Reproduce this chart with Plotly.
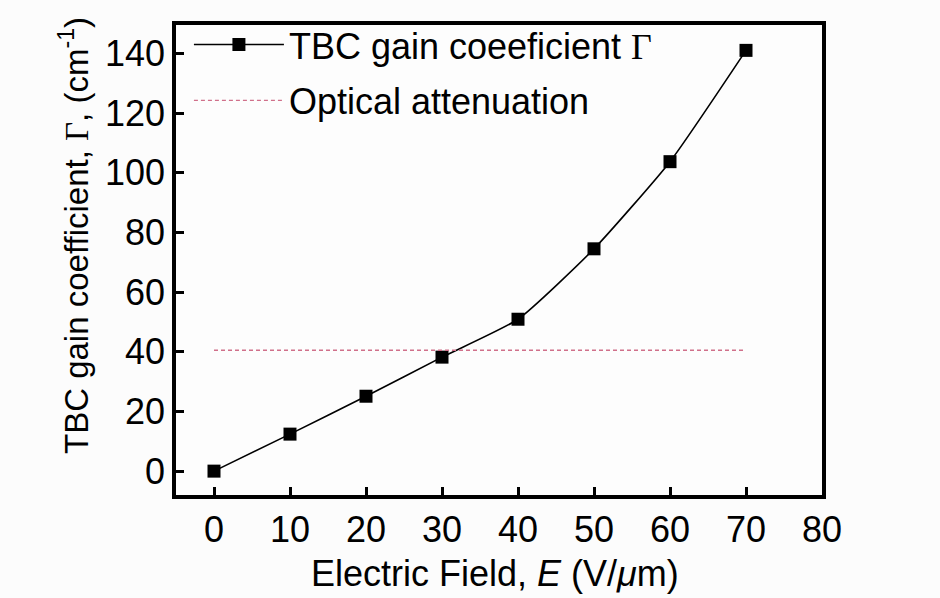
import plotly.graph_objects as go

# Electric field (V/um) and measured two-beam-coupling gain (cm^-1)
field = [0, 10, 20, 30, 40, 50, 60, 70]
gain = [0, 12.4, 25.1, 38.2, 50.9, 74.5, 103.7, 141.0]

# Optical attenuation level drawn across the field range
atten_field = [0, 70]
atten_level = [40.5, 40.5]

x_ticks = [0, 10, 20, 30, 40, 50, 60, 70, 80]
y_ticks = [0, 20, 40, 60, 80, 100, 120, 140]

FONT = "Liberation Sans, Arial, sans-serif"
FS = 36
GAMMA = "<span style=\"font-family:'Liberation Serif', 'Times New Roman', serif\">\u0393</span>"

fig = go.Figure()
fig.add_trace(go.Scatter(
    x=field, y=gain, mode="lines+markers",
    name="TBC gain coeeficient " + GAMMA,
    line=dict(color="black", width=1.6, shape="spline", smoothing=0.5),
    marker=dict(symbol="square", size=13, color="black"),
    legendgroup="g1",
))
fig.add_trace(go.Scatter(
    x=atten_field, y=atten_level, mode="lines",
    name="Optical attenuation",
    line=dict(color="#d0708a", width=1.3, dash="4px,3px"),
    legendgroup="g2",
))

axis_common = dict(
    showline=True, linecolor="black", linewidth=3.5, mirror=True,
    ticks="inside", ticklen=8, tickwidth=3, tickcolor="black",
    showgrid=False, zeroline=False,
    tickfont=dict(family=FONT, size=FS, color="black"),
)

fig.update_xaxes(range=[-5, 80], tickvals=x_ticks, **axis_common)
fig.update_yaxes(range=[-8, 149.5], tickvals=y_ticks, **axis_common)

fig.update_layout(
    width=940, height=598,
    margin=dict(l=176, r=118, t=25, b=103),
    paper_bgcolor="#fcfcfc", plot_bgcolor="#fdfdfd",
    font=dict(family=FONT, size=FS, color="black"),
    showlegend=True,
    legend=dict(
        x=0.02, y=1.022, xanchor="left", yanchor="top",
        bgcolor="rgba(0,0,0,0)", itemwidth=90, tracegroupgap=6,
        font=dict(family=FONT, size=FS, color="black"),
    ),
    annotations=[
        dict(text="Electric Field, <i>E</i> (V/<i>\u03bc</i>m)",
             xref="paper", yref="paper", x=0.494, y=-0.12,
             xanchor="center", yanchor="top", showarrow=False,
             font=dict(family=FONT, size=FS, color="black")),
        dict(text="TBC gain coefficient, " + GAMMA + ", (cm<sup>-1</sup>)",
             xref="paper", yref="paper", x=-0.158, y=0.553,
             xanchor="center", yanchor="middle", textangle=-90, showarrow=False,
             font=dict(family=FONT, size=33, color="black")),
    ],
)

fig.write_html("out.html")
